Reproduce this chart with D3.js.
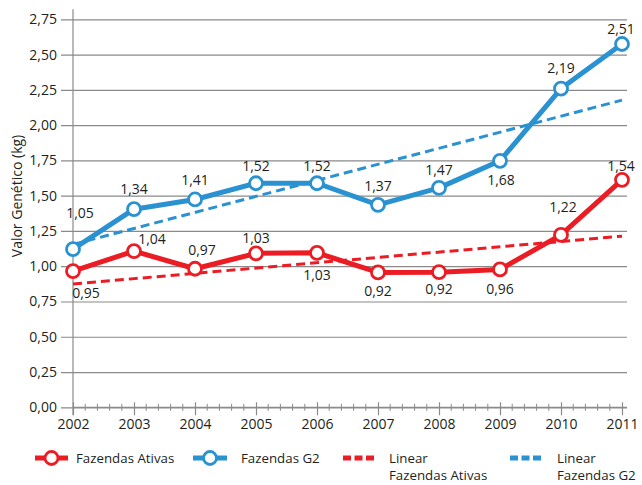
<!DOCTYPE html>
<html>
<head>
<meta charset="utf-8">
<script src="https://cdn.jsdelivr.net/npm/d3@7"></script>
<style>
	body { margin: 0; background: #fff; }
	svg { display: block; font-family: 'Open Sans', sans-serif; }
	text { fill: #231f20; }
</style>
</head>
<body>
<div id="chart"></div>
<script>
// data
const years = [2002, 2003, 2004, 2005, 2006, 2007, 2008, 2009, 2010, 2011];
const ativas = [0.965, 1.107, 0.982, 1.091, 1.095, 0.956, 0.958, 0.977, 1.222, 1.612];
const g2 = [1.121, 1.404, 1.473, 1.588, 1.588, 1.435, 1.555, 1.747, 2.259, 2.575];
const ativasLabels = ['0,95', '1,04', '0,97', '1,03', '1,03', '0,92', '0,92', '0,96', '1,22', '1,54'];
const g2Labels = ['1,05', '1,34', '1,41', '1,52', '1,52', '1,37', '1,47', '1,68', '2,19', '2,51'];
// linear trend values at first and last year
const trendYears = [2002, 2011];
const trendAtivas = [0.874, 1.213];
const trendG2 = [1.154, 2.177];
const yTicks = [0, 0.25, 0.5, 0.75, 1, 1.25, 1.5, 1.75, 2, 2.25, 2.5, 2.75];

const red = '#ec1c24';
const blue = '#2a92d0';
const gridColor = '#8a8a8a';

// label placement relative to each point [dx, dy]
const g2LabelOffsets = [[7, -36], [0, -20], [0, -19], [0, -17], [0, -17], [0, -19], [0, -18], [1, 19], [0, -20], [-1, -15]];
const ativasLabelOffsets = [[13, 22], [18, -12], [7, -19], [0, -15], [0, 22], [0, 19], [0, 17], [0, 20], [2, -28], [-1, -14]];

const W = 642;
const H = 485;
const plotLeft = 73;
const plotRight = 622;
const gridRight = 627;
const plotTop = 19.3;
const plotBottom = 407.3;

const svg = d3.select('#chart').append('svg')
	.attr('width', W)
	.attr('height', H);

const x = d3.scaleLinear().domain([2002, 2011]).range([plotLeft, plotRight]);
const y = d3.scaleLinear().domain([0, 2.75]).range([plotBottom, plotTop]);

const comma = d3.formatLocale({ decimal: ',', thousands: '.', grouping: [3], currency: ['', ''] }).format('.2f');

// horizontal grid + y axis
const yAxis = svg.append('g')
	.attr('transform', `translate(${plotLeft},0)`)
	.call(d3.axisLeft(y).tickValues(yTicks).tickFormat(comma).tickSizeInner(-(gridRight - plotLeft)).tickSizeOuter(0).tickPadding(16));
yAxis.select('.domain').remove();
yAxis.selectAll('.tick line')
	.attr('x1', -12)
	.attr('stroke', gridColor)
	.attr('stroke-width', 1.2);
yAxis.selectAll('.tick text')
	.style('font-family', "'Open Sans', sans-serif")
	.style('font-size', '14px')
	.attr('x', -16);

// vertical axis line
svg.append('line')
	.attr('x1', plotLeft).attr('x2', plotLeft)
	.attr('y1', y(2.75) - 10).attr('y2', plotBottom + 8)
	.attr('stroke', gridColor)
	.attr('stroke-width', 1.2);

// x axis
const xAxis = svg.append('g')
	.attr('transform', `translate(0,${plotBottom})`)
	.call(d3.axisBottom(x).tickValues(years).tickFormat(d3.format('d')).tickSize(8).tickPadding(4));
xAxis.select('.domain')
	.attr('d', `M${plotLeft},0H${gridRight}`)
	.attr('stroke', gridColor)
	.attr('stroke-width', 1.2);
xAxis.selectAll('.tick line')
	.attr('y1', -5)
	.attr('stroke', gridColor)
	.attr('stroke-width', 1.2);
xAxis.selectAll('.tick text')
	.style('font-family', "'Open Sans', sans-serif")
	.style('font-size', '14px');

// minor ticks, 5 steps per year
const minor = d3.range(2002, 2011.01, 0.2).filter((d) => Math.abs(d - Math.round(d)) > 0.01);
xAxis.selectAll('.minor')
	.data(minor)
	.enter()
	.append('line')
	.attr('class', 'minor')
	.attr('x1', (d) => x(d)).attr('x2', (d) => x(d))
	.attr('y1', -3.5).attr('y2', 3.5)
	.attr('stroke', gridColor)
	.attr('stroke-width', 1);

// y axis title
svg.append('text')
	.attr('transform', 'translate(22,196) rotate(-90)')
	.attr('text-anchor', 'middle')
	.style('font-size', '14px')
	.text('Valor Genético (kg)');

// trend lines
function trend(vals, color) {
	svg.append('path')
		.datum(trendYears.map((yr, i) => [yr, vals[i]]))
		.attr('d', d3.line().x((d) => x(d[0])).y((d) => y(d[1])))
		.attr('fill', 'none')
		.attr('stroke', color)
		.attr('stroke-width', 3)
		.attr('stroke-dasharray', '9,5');
}
trend(trendAtivas, red);
trend(trendG2, blue);

// series
function series(vals, labels, offsets, color) {
	const pts = years.map((yr, i) => [yr, vals[i]]);
	svg.append('path')
		.datum(pts)
		.attr('d', d3.line().x((d) => x(d[0])).y((d) => y(d[1])))
		.attr('fill', 'none')
		.attr('stroke', color)
		.attr('stroke-width', 5)
		.attr('stroke-linejoin', 'round');
	svg.selectAll(null)
		.data(pts)
		.enter()
		.append('circle')
		.attr('cx', (d) => x(d[0]))
		.attr('cy', (d) => y(d[1]))
		.attr('r', 6.5)
		.attr('fill', '#fff')
		.attr('stroke', color)
		.attr('stroke-width', 2.8);
	svg.selectAll(null)
		.data(pts)
		.enter()
		.append('text')
		.attr('x', (d, i) => x(d[0]) + offsets[i][0])
		.attr('y', (d, i) => y(d[1]) + offsets[i][1])
		.attr('dy', '0.35em')
		.attr('text-anchor', 'middle')
		.style('font-size', '14px')
		.text((d, i) => labels[i]);
}
series(g2, g2Labels, g2LabelOffsets, blue);
series(ativas, ativasLabels, ativasLabelOffsets, red);

// legend
const legY = 458;
function legendMarker(x0, x1, color) {
	svg.append('line')
		.attr('x1', x0).attr('x2', x1)
		.attr('y1', legY).attr('y2', legY)
		.attr('stroke', color)
		.attr('stroke-width', 5);
	svg.append('circle')
		.attr('cx', (x0 + x1) / 2).attr('cy', legY)
		.attr('r', 6.5)
		.attr('fill', '#fff')
		.attr('stroke', color)
		.attr('stroke-width', 2.8);
}
function legendDash(x0, x1, color) {
	svg.append('line')
		.attr('x1', x0).attr('x2', x1)
		.attr('y1', legY).attr('y2', legY)
		.attr('stroke', color)
		.attr('stroke-width', 5)
		.attr('stroke-dasharray', '8,3.5');
}
function legendText(tx, lines, lineYs) {
	lines.forEach((t, i) => {
		svg.append('text')
			.attr('x', tx)
			.attr('y', lineYs[i])
			.attr('dy', '0.35em')
			.style('font-size', '13.3px')
			.text(t);
	});
}
legendMarker(35, 68, red);
legendText(76, ['Fazendas Ativas'], [legY]);
legendMarker(193, 227, blue);
legendText(241, ['Fazendas G2'], [legY]);
legendDash(343, 374, red);
legendText(389, ['Linear', 'Fazendas Ativas'], [legY, 475]);
legendDash(510, 541, blue);
legendText(557, ['Linear', 'Fazendas G2'], [legY, 475]);
</script>
</body>
</html>
